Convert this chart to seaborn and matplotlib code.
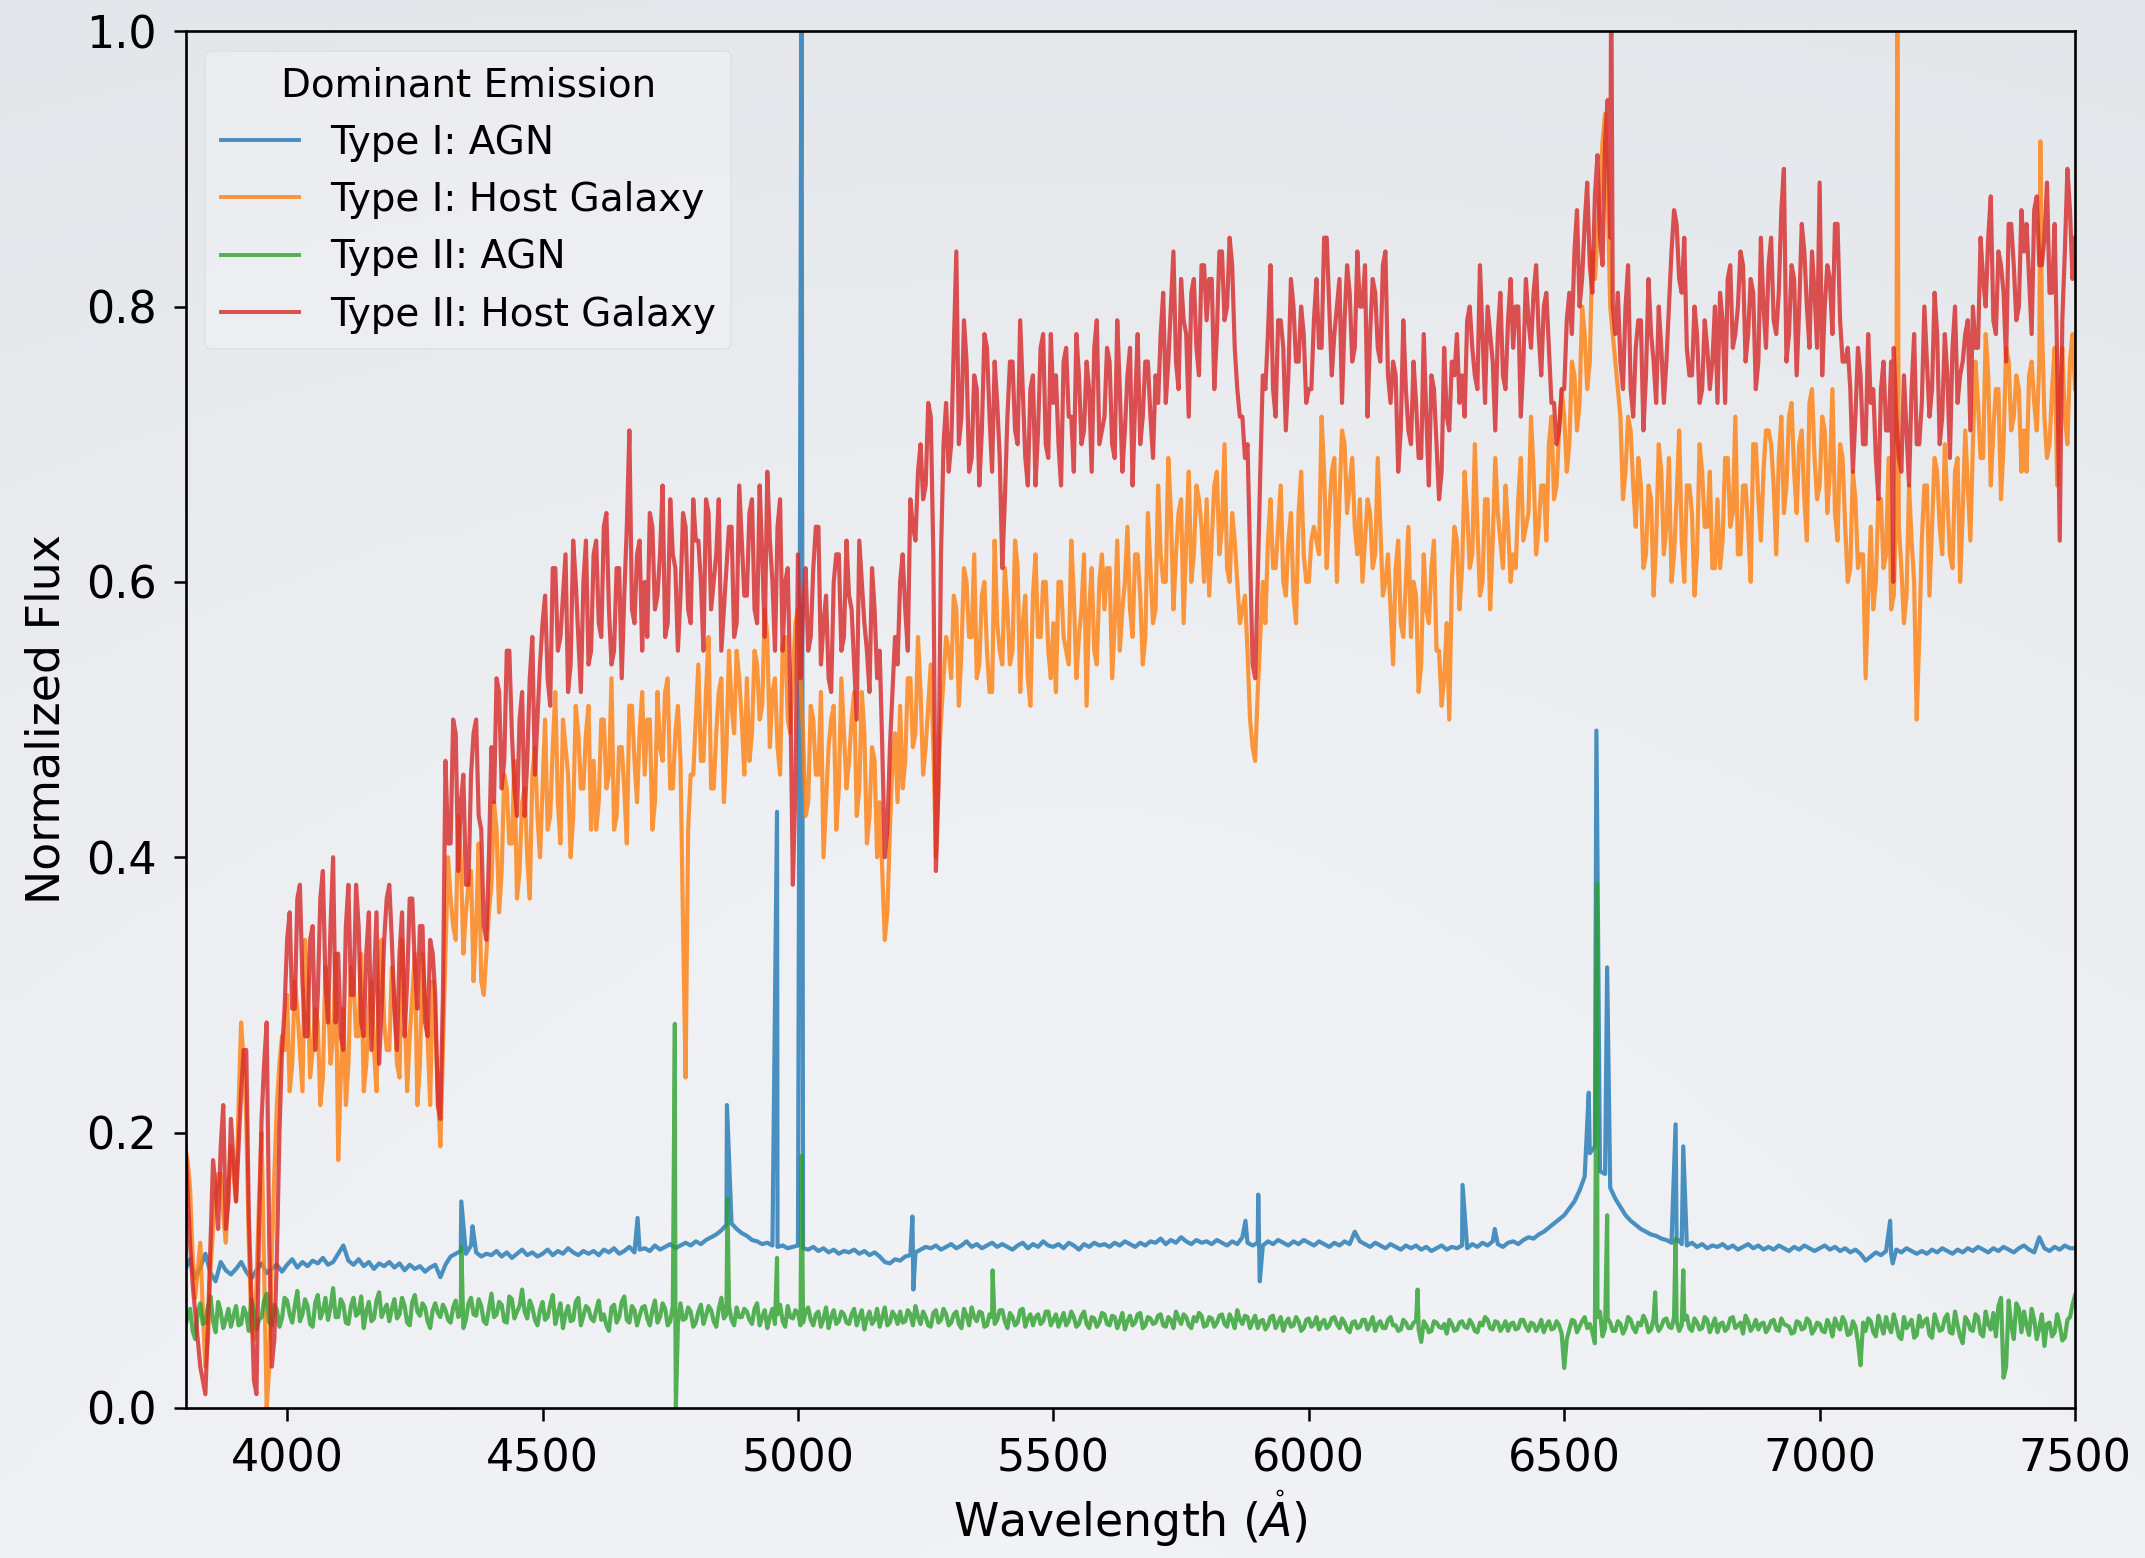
import numpy as np
import pandas as pd
import matplotlib
matplotlib.use("Agg")
import matplotlib.pyplot as plt
from matplotlib.lines import Line2D
from matplotlib.colors import LinearSegmentedColormap
import seaborn as sns

# ---------------- data ----------------
WAVE_START, WAVE_STOP, WAVE_STEP = 3800, 7500, 10   # main sampling grid (Angstrom)
# a second set of samples sits half-way between the main grid points (3805, 3815, ...)

# Type II: Host Galaxy (red), main grid 3800 .. 7500
type2_host = [
    0.20, 0.12, 0.07, 0.03, 0.01, 0.12, 0.16, 0.19, 0.13, 0.21,
    0.15, 0.23, 0.26, 0.08, 0.01, 0.21, 0.28, 0.03, 0.11, 0.26,
    0.34, 0.29, 0.37, 0.31, 0.27, 0.35, 0.30, 0.39, 0.28, 0.40,
    0.33, 0.26, 0.38, 0.30, 0.35, 0.27, 0.36, 0.31, 0.25, 0.34,
    0.38, 0.29, 0.33, 0.27, 0.37, 0.32, 0.35, 0.28, 0.34, 0.30,
    0.21, 0.47, 0.41, 0.49, 0.44, 0.38, 0.46, 0.50, 0.42, 0.34,
    0.48, 0.53, 0.45, 0.55, 0.49, 0.43, 0.52, 0.47, 0.56, 0.50,
    0.57, 0.53, 0.61, 0.55, 0.59, 0.52, 0.63, 0.56, 0.60, 0.54,
    0.62, 0.57, 0.64, 0.58, 0.55, 0.61, 0.59, 0.71, 0.57, 0.63,
    0.60, 0.65, 0.58, 0.62, 0.56, 0.66, 0.61, 0.59, 0.64, 0.57,
    0.63, 0.60, 0.66, 0.58, 0.62, 0.55, 0.61, 0.64, 0.57, 0.63,
    0.59, 0.66, 0.57, 0.62, 0.68, 0.60, 0.64, 0.55, 0.61, 0.38,
    0.62, 0.58, 0.55, 0.61, 0.64, 0.57, 0.53, 0.60, 0.62, 0.56,
    0.59, 0.54, 0.63, 0.57, 0.52, 0.58, 0.55, 0.40, 0.48, 0.56,
    0.60, 0.58, 0.66, 0.63, 0.70, 0.67, 0.72, 0.39, 0.62, 0.73,
    0.70, 0.84, 0.72, 0.76, 0.69, 0.74, 0.71, 0.77, 0.68, 0.73,
    0.61, 0.72, 0.76, 0.70, 0.74, 0.67, 0.75, 0.71, 0.78, 0.69,
    0.73, 0.70, 0.76, 0.72, 0.68, 0.75, 0.71, 0.74, 0.77, 0.70,
    0.72, 0.76, 0.69, 0.74, 0.71, 0.77, 0.73, 0.70, 0.76, 0.72,
    0.75, 0.78, 0.73, 0.80, 0.76, 0.82, 0.78, 0.81, 0.77, 0.83,
    0.79, 0.82, 0.78, 0.84, 0.80, 0.83, 0.74, 0.72, 0.70, 0.54,
    0.60, 0.75, 0.78, 0.74, 0.79, 0.77, 0.75, 0.80, 0.76, 0.78,
    0.74, 0.79, 0.77, 0.85, 0.80, 0.78, 0.82, 0.79, 0.81, 0.77,
    0.80, 0.83, 0.78, 0.81, 0.76, 0.84, 0.73, 0.75, 0.71, 0.74,
    0.70, 0.73, 0.69, 0.72, 0.75, 0.70, 0.68, 0.72, 0.76, 0.78,
    0.75, 0.79, 0.77, 0.74, 0.78, 0.80, 0.76, 0.78, 0.75, 0.79,
    0.77, 0.80, 0.76, 0.79, 0.81, 0.78, 0.80, 0.77, 0.73, 0.71,
    0.74, 0.81, 0.84, 0.80, 0.86, 0.83, 0.88, 0.85, 0.92, 0.85,
    0.78, 0.76, 0.80, 0.74, 0.77, 0.79, 0.75, 0.78, 0.73, 0.77,
    0.76, 0.84, 0.86, 0.81, 0.77, 0.75, 0.78, 0.74, 0.77, 0.76,
    0.73, 0.79, 0.82, 0.77, 0.80, 0.83, 0.78, 0.81, 0.76, 0.80,
    0.83, 0.79, 0.81, 0.90, 0.78, 0.82, 0.80, 0.84, 0.77, 0.81,
    0.89, 0.80, 0.82, 0.86, 0.79, 0.76, 0.74, 0.72, 0.75, 0.70,
    0.73, 0.69, 0.74, 0.71, 0.76, 0.72, 0.68, 0.71, 0.74, 0.70,
    0.73, 0.76, 0.74, 0.78, 0.72, 0.75, 0.77, 0.73, 0.76, 0.79,
    0.80, 0.77, 0.82, 0.85, 0.79, 0.84, 0.81, 0.86, 0.83, 0.80,
    0.84, 0.82, 0.87, 0.83, 0.85, 0.81, 0.86, 0.63, 0.84, 0.87,
    0.85,
]
# Type II: Host Galaxy (red), half-way samples 3805 .. 7495
type2_host_mid = [
    0.16, 0.09, 0.05, 0.02, 0.06, 0.18, 0.13, 0.22, 0.15, 0.18,
    0.19, 0.26, 0.14, 0.02, 0.13, 0.25, 0.12, 0.05, 0.20, 0.29,
    0.36, 0.29, 0.38, 0.27, 0.34, 0.26, 0.37, 0.31, 0.35, 0.28,
    0.27, 0.35, 0.30, 0.38, 0.28, 0.33, 0.26, 0.36, 0.29, 0.37,
    0.34, 0.26, 0.36, 0.31, 0.37, 0.29, 0.35, 0.27, 0.33, 0.22,
    0.30, 0.41, 0.50, 0.39, 0.46, 0.38, 0.49, 0.43, 0.35, 0.40,
    0.44, 0.52, 0.47, 0.55, 0.45, 0.50, 0.43, 0.53, 0.46, 0.54,
    0.59, 0.51, 0.61, 0.56, 0.62, 0.54, 0.60, 0.52, 0.63, 0.55,
    0.63, 0.56, 0.65, 0.54, 0.61, 0.53, 0.64, 0.58, 0.62, 0.55,
    0.56, 0.64, 0.59, 0.67, 0.57, 0.62, 0.55, 0.65, 0.58, 0.66,
    0.63, 0.55, 0.65, 0.60, 0.66, 0.58, 0.64, 0.56, 0.67, 0.59,
    0.65, 0.58, 0.67, 0.56, 0.63, 0.55, 0.66, 0.60, 0.52, 0.45,
    0.53, 0.61, 0.56, 0.64, 0.54, 0.59, 0.52, 0.62, 0.55, 0.63,
    0.58, 0.50, 0.60, 0.55, 0.61, 0.53, 0.48, 0.42, 0.52, 0.54,
    0.62, 0.55, 0.64, 0.68, 0.66, 0.73, 0.62, 0.45, 0.70, 0.68,
    0.77, 0.70, 0.79, 0.68, 0.75, 0.67, 0.78, 0.72, 0.76, 0.69,
    0.66, 0.76, 0.71, 0.79, 0.69, 0.74, 0.67, 0.77, 0.70, 0.78,
    0.75, 0.67, 0.77, 0.72, 0.78, 0.70, 0.76, 0.68, 0.79, 0.71,
    0.77, 0.70, 0.79, 0.68, 0.75, 0.67, 0.78, 0.72, 0.76, 0.69,
    0.73, 0.81, 0.76, 0.84, 0.74, 0.79, 0.72, 0.82, 0.75, 0.83,
    0.82, 0.74, 0.84, 0.79, 0.85, 0.77, 0.72, 0.69, 0.62, 0.53,
    0.68, 0.74, 0.83, 0.72, 0.79, 0.71, 0.82, 0.76, 0.80, 0.73,
    0.74, 0.82, 0.77, 0.85, 0.75, 0.80, 0.73, 0.83, 0.76, 0.84,
    0.80, 0.72, 0.82, 0.77, 0.83, 0.75, 0.76, 0.68, 0.79, 0.71,
    0.76, 0.69, 0.78, 0.67, 0.74, 0.66, 0.77, 0.71, 0.75, 0.73,
    0.72, 0.80, 0.75, 0.83, 0.73, 0.78, 0.71, 0.81, 0.74, 0.82,
    0.80, 0.72, 0.82, 0.77, 0.83, 0.75, 0.81, 0.73, 0.70, 0.74,
    0.79, 0.78, 0.87, 0.82, 0.89, 0.81, 0.91, 0.83, 0.95, 0.80,
    0.81, 0.74, 0.83, 0.72, 0.79, 0.71, 0.82, 0.76, 0.80, 0.73,
    0.80, 0.87, 0.82, 0.85, 0.75, 0.80, 0.73, 0.79, 0.74, 0.80,
    0.81, 0.73, 0.83, 0.78, 0.84, 0.76, 0.82, 0.74, 0.85, 0.77,
    0.85, 0.78, 0.87, 0.76, 0.83, 0.75, 0.86, 0.80, 0.84, 0.77,
    0.75, 0.83, 0.78, 0.86, 0.76, 0.77, 0.68, 0.77, 0.70, 0.78,
    0.74, 0.66, 0.76, 0.71, 0.77, 0.69, 0.75, 0.67, 0.78, 0.70,
    0.80, 0.72, 0.81, 0.70, 0.78, 0.69, 0.80, 0.75, 0.78, 0.71,
    0.77, 0.85, 0.80, 0.88, 0.78, 0.83, 0.76, 0.86, 0.79, 0.87,
    0.86, 0.78, 0.88, 0.83, 0.89, 0.81, 0.76, 0.79, 0.90, 0.82,
]
type2_host_extra = [(6592, 1.05), (7144, 0.60)]

# Type I: Host Galaxy (orange), main grid
type1_host = [
    0.19, 0.16, 0.08, 0.12, 0.03, 0.10, 0.15, 0.17, 0.12, 0.19,
    0.15, 0.28, 0.21, 0.06, 0.09, 0.20, 0.00, 0.11, 0.22, 0.27,
    0.30, 0.25, 0.29, 0.23, 0.31, 0.26, 0.28, 0.24, 0.30, 0.27,
    0.18, 0.29, 0.25, 0.31, 0.27, 0.23, 0.29, 0.26, 0.32, 0.28,
    0.26, 0.30, 0.24, 0.29, 0.27, 0.33, 0.25, 0.30, 0.22, 0.28,
    0.19, 0.33, 0.37, 0.34, 0.40, 0.36, 0.39, 0.35, 0.31, 0.33,
    0.38, 0.42, 0.39, 0.45, 0.41, 0.37, 0.44, 0.40, 0.46, 0.43,
    0.45, 0.42, 0.48, 0.44, 0.50, 0.46, 0.43, 0.49, 0.45, 0.51,
    0.47, 0.44, 0.50, 0.46, 0.42, 0.48, 0.45, 0.51, 0.47, 0.49,
    0.46, 0.50, 0.44, 0.48, 0.52, 0.45, 0.49, 0.47, 0.24, 0.46,
    0.50, 0.47, 0.52, 0.45, 0.49, 0.53, 0.48, 0.51, 0.55, 0.50,
    0.53, 0.49, 0.54, 0.51, 0.56, 0.52, 0.48, 0.55, 0.50, 0.53,
    0.58, 0.49, 0.44, 0.50, 0.46, 0.40, 0.48, 0.51, 0.45, 0.49,
    0.47, 0.52, 0.45, 0.49, 0.43, 0.47, 0.44, 0.34, 0.42, 0.49,
    0.51, 0.47, 0.53, 0.49, 0.52, 0.48, 0.54, 0.40, 0.50, 0.56,
    0.53, 0.58, 0.55, 0.60, 0.56, 0.53, 0.59, 0.55, 0.52, 0.57,
    0.54, 0.58, 0.55, 0.61, 0.57, 0.53, 0.59, 0.56, 0.60, 0.55,
    0.57, 0.60, 0.56, 0.54, 0.59, 0.56, 0.62, 0.58, 0.55, 0.60,
    0.58, 0.61, 0.57, 0.55, 0.60, 0.58, 0.62, 0.59, 0.56, 0.61,
    0.58, 0.62, 0.60, 0.65, 0.62, 0.66, 0.63, 0.60, 0.67, 0.64,
    0.66, 0.63, 0.68, 0.64, 0.61, 0.65, 0.60, 0.58, 0.55, 0.48,
    0.52, 0.60, 0.63, 0.61, 0.64, 0.60, 0.63, 0.59, 0.65, 0.62,
    0.60, 0.64, 0.62, 0.68, 0.65, 0.69, 0.66, 0.70, 0.67, 0.64,
    0.66, 0.63, 0.65, 0.62, 0.64, 0.60, 0.58, 0.61, 0.57, 0.60,
    0.56, 0.59, 0.54, 0.58, 0.61, 0.55, 0.51, 0.57, 0.60, 0.63,
    0.61, 0.65, 0.62, 0.64, 0.60, 0.66, 0.63, 0.65, 0.61, 0.64,
    0.62, 0.66, 0.63, 0.65, 0.68, 0.64, 0.67, 0.70, 0.66, 0.71,
    0.72, 0.70, 0.75, 0.73, 0.78, 0.76, 0.82, 0.88, 0.94, 0.80,
    0.76, 0.72, 0.68, 0.71, 0.64, 0.67, 0.62, 0.66, 0.63, 0.68,
    0.64, 0.60, 0.66, 0.63, 0.67, 0.65, 0.62, 0.68, 0.64, 0.61,
    0.66, 0.63, 0.69, 0.65, 0.62, 0.67, 0.64, 0.70, 0.66, 0.68,
    0.71, 0.67, 0.69, 0.65, 0.72, 0.68, 0.70, 0.66, 0.73, 0.69,
    0.67, 0.71, 0.68, 0.65, 0.70, 0.64, 0.61, 0.66, 0.62, 0.53,
    0.64, 0.60, 0.66, 0.62, 0.58, 0.65, 0.61, 0.59, 0.63, 0.50,
    0.63, 0.67, 0.64, 0.68, 0.62, 0.66, 0.61, 0.69, 0.65, 0.67,
    0.70, 0.73, 0.69, 0.75, 0.71, 0.74, 0.70, 0.76, 0.72, 0.74,
    0.71, 0.75, 0.73, 0.76, 0.72, 0.70, 0.77, 0.74, 0.72, 0.76,
    0.74,
]
# Type I: Host Galaxy (orange), half-way samples
type1_host_mid = [
    0.18, 0.11, 0.10, 0.07, 0.05, 0.13, 0.17, 0.14, 0.16, 0.17,
    0.22, 0.25, 0.12, 0.05, 0.15, 0.10, 0.03, 0.17, 0.25, 0.26,
    0.23, 0.31, 0.26, 0.34, 0.24, 0.29, 0.22, 0.32, 0.25, 0.33,
    0.24, 0.22, 0.32, 0.27, 0.33, 0.25, 0.31, 0.23, 0.34, 0.26,
    0.32, 0.25, 0.34, 0.23, 0.30, 0.22, 0.33, 0.27, 0.31, 0.23,
    0.26, 0.40, 0.35, 0.43, 0.33, 0.38, 0.31, 0.41, 0.30, 0.36,
    0.44, 0.36, 0.46, 0.41, 0.47, 0.39, 0.45, 0.37, 0.48, 0.40,
    0.50, 0.43, 0.52, 0.41, 0.48, 0.40, 0.51, 0.45, 0.49, 0.42,
    0.42, 0.50, 0.45, 0.53, 0.43, 0.48, 0.41, 0.51, 0.44, 0.52,
    0.50, 0.42, 0.52, 0.47, 0.53, 0.45, 0.51, 0.35, 0.42, 0.46,
    0.54, 0.47, 0.56, 0.45, 0.52, 0.44, 0.55, 0.49, 0.53, 0.46,
    0.47, 0.55, 0.50, 0.58, 0.48, 0.53, 0.46, 0.56, 0.49, 0.57,
    0.53, 0.43, 0.51, 0.46, 0.52, 0.44, 0.50, 0.42, 0.53, 0.45,
    0.50, 0.43, 0.52, 0.41, 0.48, 0.40, 0.39, 0.36, 0.47, 0.44,
    0.45, 0.53, 0.48, 0.56, 0.46, 0.51, 0.48, 0.46, 0.53, 0.55,
    0.59, 0.51, 0.61, 0.56, 0.62, 0.54, 0.60, 0.52, 0.63, 0.55,
    0.61, 0.54, 0.63, 0.52, 0.59, 0.51, 0.62, 0.56, 0.60, 0.53,
    0.52, 0.60, 0.55, 0.63, 0.53, 0.58, 0.51, 0.61, 0.54, 0.62,
    0.61, 0.53, 0.63, 0.58, 0.64, 0.56, 0.62, 0.54, 0.65, 0.57,
    0.67, 0.60, 0.69, 0.58, 0.65, 0.57, 0.68, 0.62, 0.66, 0.60,
    0.59, 0.67, 0.62, 0.70, 0.60, 0.63, 0.57, 0.59, 0.50, 0.47,
    0.56, 0.57, 0.66, 0.61, 0.67, 0.59, 0.65, 0.57, 0.68, 0.60,
    0.63, 0.63, 0.72, 0.61, 0.68, 0.60, 0.71, 0.65, 0.69, 0.62,
    0.60, 0.66, 0.61, 0.69, 0.59, 0.62, 0.54, 0.63, 0.56, 0.64,
    0.60, 0.52, 0.62, 0.57, 0.63, 0.55, 0.53, 0.50, 0.64, 0.58,
    0.68, 0.61, 0.70, 0.59, 0.66, 0.58, 0.69, 0.63, 0.67, 0.60,
    0.61, 0.69, 0.64, 0.72, 0.62, 0.67, 0.63, 0.72, 0.67, 0.74,
    0.68, 0.76, 0.71, 0.80, 0.74, 0.84, 0.85, 0.92, 0.88, 0.78,
    0.74, 0.66, 0.72, 0.67, 0.69, 0.61, 0.67, 0.59, 0.70, 0.62,
    0.69, 0.62, 0.71, 0.60, 0.67, 0.59, 0.70, 0.64, 0.68, 0.61,
    0.61, 0.69, 0.64, 0.72, 0.62, 0.67, 0.60, 0.70, 0.63, 0.71,
    0.70, 0.62, 0.72, 0.67, 0.73, 0.65, 0.71, 0.63, 0.74, 0.66,
    0.72, 0.65, 0.74, 0.63, 0.69, 0.60, 0.68, 0.61, 0.62, 0.59,
    0.58, 0.66, 0.61, 0.69, 0.59, 0.64, 0.57, 0.67, 0.60, 0.56,
    0.67, 0.59, 0.69, 0.64, 0.70, 0.62, 0.68, 0.60, 0.71, 0.63,
    0.76, 0.69, 0.78, 0.67, 0.74, 0.66, 0.77, 0.71, 0.75, 0.68,
    0.68, 0.76, 0.71, 0.79, 0.69, 0.74, 0.67, 0.77, 0.70, 0.78,
]
type1_host_extra = [(7152, 1.05), (7432, 0.92)]

# Type I: AGN (blue) continuum, main grid
type1_agn = [
    0.100, 0.108, 0.094, 0.102, 0.112, 0.098, 0.092, 0.106, 0.100, 0.097,
    0.101, 0.106, 0.099, 0.094, 0.100, 0.105, 0.098, 0.101, 0.104, 0.099,
    0.104, 0.108, 0.102, 0.106, 0.103, 0.107, 0.105, 0.109, 0.104, 0.106,
    0.112, 0.118, 0.107, 0.104, 0.108, 0.103, 0.106, 0.101, 0.105, 0.103,
    0.106, 0.102, 0.105, 0.100, 0.104, 0.101, 0.103, 0.099, 0.102, 0.104,
    0.095, 0.104, 0.110, 0.112, 0.114, 0.112, 0.118, 0.113, 0.110, 0.112,
    0.111, 0.114, 0.110, 0.113, 0.109, 0.112, 0.115, 0.111, 0.113, 0.110,
    0.112, 0.115, 0.111, 0.114, 0.112, 0.116, 0.113, 0.111, 0.114, 0.112,
    0.114, 0.111, 0.115, 0.113, 0.116, 0.112, 0.114, 0.117, 0.113, 0.115,
    0.116, 0.114, 0.118, 0.115, 0.117, 0.119, 0.116, 0.118, 0.120, 0.118,
    0.121, 0.119, 0.122, 0.124, 0.126, 0.129, 0.133, 0.134, 0.130, 0.127,
    0.125, 0.122, 0.121, 0.119, 0.120, 0.118, 0.117, 0.118, 0.116, 0.117,
    0.118, 0.116, 0.115, 0.117, 0.114, 0.116, 0.113, 0.115, 0.112, 0.114,
    0.113, 0.115, 0.112, 0.114, 0.111, 0.113, 0.110, 0.106, 0.105, 0.108,
    0.107, 0.110, 0.111, 0.113, 0.115, 0.117, 0.116, 0.118, 0.115, 0.117,
    0.119, 0.116, 0.118, 0.121, 0.117, 0.119, 0.116, 0.118, 0.120, 0.117,
    0.119, 0.117, 0.115, 0.118, 0.120, 0.116, 0.119, 0.117, 0.121, 0.118,
    0.117, 0.119, 0.116, 0.120, 0.118, 0.115, 0.119, 0.117, 0.120, 0.118,
    0.119, 0.117, 0.120, 0.118, 0.121, 0.119, 0.117, 0.120, 0.118, 0.121,
    0.120, 0.123, 0.119, 0.122, 0.120, 0.124, 0.121, 0.119, 0.122, 0.120,
    0.121, 0.119, 0.122, 0.120, 0.118, 0.121, 0.119, 0.124, 0.120, 0.118,
    0.120, 0.118, 0.121, 0.119, 0.122, 0.120, 0.118, 0.121, 0.119, 0.122,
    0.120, 0.118, 0.121, 0.119, 0.117, 0.120, 0.118, 0.121, 0.119, 0.128,
    0.121, 0.119, 0.117, 0.120, 0.118, 0.116, 0.119, 0.117, 0.115, 0.118,
    0.116, 0.118, 0.115, 0.117, 0.114, 0.116, 0.118, 0.115, 0.117, 0.116,
    0.118, 0.116, 0.119, 0.117, 0.120, 0.118, 0.121, 0.119, 0.117, 0.120,
    0.121, 0.119, 0.122, 0.124, 0.123, 0.126, 0.128, 0.131, 0.134, 0.137,
    0.140, 0.145, 0.150, 0.158, 0.168, 0.185, 0.190, 0.172, 0.170, 0.160,
    0.152, 0.146, 0.140, 0.136, 0.133, 0.130, 0.128, 0.126, 0.125, 0.123,
    0.122, 0.120, 0.121, 0.119, 0.118, 0.120, 0.117, 0.119, 0.116, 0.118,
    0.117, 0.119, 0.116, 0.118, 0.115, 0.117, 0.119, 0.116, 0.118, 0.115,
    0.117, 0.115, 0.118, 0.116, 0.114, 0.117, 0.115, 0.118, 0.116, 0.114,
    0.116, 0.118, 0.115, 0.117, 0.114, 0.116, 0.113, 0.115, 0.112, 0.107,
    0.110, 0.113, 0.111, 0.114, 0.112, 0.115, 0.113, 0.116, 0.114, 0.112,
    0.114, 0.112, 0.115, 0.113, 0.116, 0.114, 0.112, 0.115, 0.113, 0.116,
    0.114, 0.117, 0.115, 0.113, 0.116, 0.114, 0.117, 0.115, 0.113, 0.116,
    0.118, 0.115, 0.113, 0.124, 0.116, 0.114, 0.117, 0.115, 0.118, 0.116,
    0.116,
]
type1_agn_lines = [
    (4341, 0.150), (4363, 0.132), (4686, 0.138), (4861, 0.220), (4959, 0.433),
    (5007, 1.05), (5224, 0.139), (5226, 0.086), (5876, 0.136), (5901, 0.155),
    (5904, 0.092), (6301, 0.162), (6364, 0.130), (6548, 0.229), (6563, 0.492),
    (6584, 0.320), (6718, 0.206), (6724, 0.122), (6733, 0.190), (7138, 0.136),
    (7143, 0.105),
]

# Type II: AGN (green), main grid
type2_agn = [
    0.058, 0.072, 0.050, 0.076, 0.062, 0.081, 0.055, 0.070, 0.064, 0.059,
    0.074, 0.061, 0.068, 0.079, 0.057, 0.066, 0.083, 0.060, 0.071, 0.065,
    0.078, 0.062, 0.085, 0.068, 0.074, 0.059, 0.082, 0.070, 0.064, 0.087,
    0.066, 0.075, 0.061, 0.080, 0.069, 0.058, 0.077, 0.065, 0.084, 0.071,
    0.063, 0.079, 0.068, 0.074, 0.060, 0.082, 0.067, 0.073, 0.058, 0.076,
    0.066, 0.071, 0.062, 0.078, 0.069, 0.064, 0.080, 0.067, 0.074, 0.061,
    0.083, 0.068, 0.075, 0.062, 0.079, 0.070, 0.086, 0.065, 0.073, 0.060,
    0.077, 0.066, 0.082, 0.069, 0.058, 0.074, 0.064, 0.080, 0.067, 0.072,
    0.063, 0.078, 0.068, 0.056, 0.075, 0.066, 0.081, 0.062, 0.071, 0.067,
    0.074, 0.060, 0.078, 0.066, 0.072, 0.063, 0.069, 0.076, 0.065, 0.070,
    0.062, 0.075, 0.067, 0.071, 0.059, 0.080, 0.068, 0.064, 0.073, 0.066,
    0.070, 0.061, 0.076, 0.066, 0.058, 0.072, 0.068, 0.063, 0.074, 0.065,
    0.069, 0.062, 0.073, 0.060, 0.070, 0.065, 0.058, 0.071, 0.063, 0.068,
    0.061, 0.072, 0.066, 0.057, 0.070, 0.064, 0.059, 0.073, 0.062, 0.067,
    0.070, 0.063, 0.068, 0.074, 0.061, 0.066, 0.059, 0.071, 0.064, 0.068,
    0.062, 0.070, 0.058, 0.067, 0.073, 0.063, 0.069, 0.060, 0.066, 0.064,
    0.071, 0.058, 0.066, 0.062, 0.072, 0.065, 0.060, 0.068, 0.063, 0.070,
    0.064, 0.059, 0.069, 0.063, 0.066, 0.061, 0.070, 0.058, 0.065, 0.062,
    0.068, 0.060, 0.066, 0.063, 0.057, 0.067, 0.062, 0.069, 0.060, 0.065,
    0.062, 0.068, 0.059, 0.064, 0.070, 0.061, 0.066, 0.058, 0.063, 0.067,
    0.060, 0.065, 0.062, 0.068, 0.059, 0.064, 0.071, 0.061, 0.066, 0.063,
    0.058, 0.064, 0.060, 0.067, 0.062, 0.056, 0.065, 0.060, 0.063, 0.058,
    0.065, 0.061, 0.057, 0.064, 0.060, 0.066, 0.058, 0.062, 0.055, 0.063,
    0.059, 0.064, 0.061, 0.056, 0.063, 0.058, 0.066, 0.060, 0.057, 0.062,
    0.058, 0.063, 0.048, 0.060, 0.056, 0.062, 0.058, 0.054, 0.061, 0.057,
    0.063, 0.058, 0.061, 0.055, 0.060, 0.064, 0.057, 0.062, 0.059, 0.056,
    0.062, 0.058, 0.064, 0.056, 0.061, 0.059, 0.055, 0.063, 0.058, 0.060,
    0.029, 0.057, 0.063, 0.059, 0.066, 0.061, 0.047, 0.070, 0.058, 0.062,
    0.056, 0.061, 0.058, 0.064, 0.055, 0.060, 0.063, 0.057, 0.062, 0.059,
    0.065, 0.058, 0.063, 0.060, 0.067, 0.056, 0.062, 0.058, 0.064, 0.060,
    0.055, 0.062, 0.058, 0.066, 0.060, 0.054, 0.063, 0.059, 0.057, 0.062,
    0.058, 0.064, 0.056, 0.061, 0.059, 0.055, 0.062, 0.058, 0.063, 0.057,
    0.061, 0.055, 0.060, 0.065, 0.057, 0.062, 0.054, 0.059, 0.031, 0.056,
    0.063, 0.052, 0.060, 0.066, 0.055, 0.061, 0.050, 0.058, 0.064, 0.053,
    0.059, 0.065, 0.051, 0.062, 0.057, 0.068, 0.054, 0.060, 0.047, 0.063,
    0.056, 0.066, 0.052, 0.061, 0.069, 0.074, 0.022, 0.078, 0.050, 0.072,
    0.070, 0.053, 0.064, 0.058, 0.045, 0.062, 0.055, 0.060, 0.051, 0.066,
    0.082,
]
# Type II: AGN (green), half-way samples
type2_agn_mid = [
    0.066, 0.056, 0.069, 0.061, 0.074, 0.063, 0.077, 0.058, 0.072, 0.067,
    0.060, 0.073, 0.056, 0.070, 0.064, 0.078, 0.062, 0.075, 0.059, 0.080,
    0.068, 0.074, 0.063, 0.079, 0.061, 0.076, 0.065, 0.080, 0.073, 0.066,
    0.079, 0.062, 0.074, 0.067, 0.081, 0.070, 0.063, 0.078, 0.066, 0.075,
    0.072, 0.065, 0.080, 0.062, 0.077, 0.070, 0.076, 0.063, 0.071, 0.069,
    0.075, 0.064, 0.073, 0.066, 0.058, 0.076, 0.068, 0.079, 0.063, 0.072,
    0.066, 0.077, 0.063, 0.081, 0.065, 0.074, 0.070, 0.078, 0.064, 0.071,
    0.064, 0.075, 0.061, 0.076, 0.068, 0.063, 0.077, 0.060, 0.074, 0.065,
    0.071, 0.064, 0.060, 0.073, 0.062, 0.077, 0.064, 0.074, 0.060, 0.073,
    0.065, 0.071, 0.062, 0.076, 0.060, 0.074, 0.061, 0.064, 0.073, 0.059,
    0.070, 0.061, 0.074, 0.063, 0.072, 0.065, 0.074, 0.060, 0.066, 0.072,
    0.064, 0.072, 0.060, 0.071, 0.066, 0.061, 0.075, 0.059, 0.066, 0.071,
    0.060, 0.070, 0.064, 0.068, 0.059, 0.073, 0.066, 0.061, 0.070, 0.062,
    0.068, 0.060, 0.071, 0.065, 0.061, 0.072, 0.066, 0.060, 0.070, 0.061,
    0.062, 0.071, 0.060, 0.066, 0.070, 0.060, 0.069, 0.062, 0.072, 0.060,
    0.068, 0.061, 0.072, 0.060, 0.066, 0.070, 0.059, 0.068, 0.061, 0.071,
    0.063, 0.069, 0.060, 0.071, 0.059, 0.068, 0.066, 0.061, 0.070, 0.060,
    0.068, 0.064, 0.060, 0.070, 0.059, 0.067, 0.061, 0.066, 0.059, 0.069,
    0.061, 0.067, 0.058, 0.069, 0.063, 0.060, 0.068, 0.058, 0.066, 0.061,
    0.067, 0.060, 0.066, 0.058, 0.065, 0.068, 0.060, 0.066, 0.069, 0.059,
    0.066, 0.059, 0.067, 0.061, 0.068, 0.058, 0.064, 0.067, 0.058, 0.067,
    0.063, 0.057, 0.066, 0.058, 0.066, 0.062, 0.059, 0.066, 0.056, 0.064,
    0.059, 0.066, 0.062, 0.058, 0.065, 0.061, 0.065, 0.057, 0.062, 0.058,
    0.064, 0.057, 0.066, 0.061, 0.058, 0.064, 0.060, 0.056, 0.064, 0.058,
    0.062, 0.057, 0.063, 0.055, 0.063, 0.059, 0.061, 0.064, 0.056, 0.062,
    0.059, 0.064, 0.056, 0.062, 0.066, 0.058, 0.063, 0.056, 0.063, 0.061,
    0.057, 0.064, 0.059, 0.062, 0.056, 0.064, 0.060, 0.057, 0.063, 0.054,
    0.050, 0.064, 0.055, 0.063, 0.058, 0.055, 0.066, 0.052, 0.065, 0.056,
    0.063, 0.054, 0.066, 0.058, 0.062, 0.067, 0.055, 0.065, 0.056, 0.064,
    0.059, 0.066, 0.056, 0.064, 0.058, 0.065, 0.057, 0.066, 0.055, 0.065,
    0.061, 0.056, 0.065, 0.058, 0.062, 0.067, 0.056, 0.064, 0.061, 0.055,
    0.063, 0.057, 0.065, 0.060, 0.054, 0.063, 0.057, 0.065, 0.054, 0.062,
    0.056, 0.064, 0.052, 0.060, 0.066, 0.053, 0.063, 0.048, 0.062, 0.065,
    0.055, 0.067, 0.054, 0.059, 0.068, 0.052, 0.066, 0.061, 0.051, 0.067,
    0.063, 0.053, 0.068, 0.056, 0.065, 0.055, 0.070, 0.052, 0.066, 0.057,
    0.068, 0.054, 0.070, 0.057, 0.052, 0.080, 0.030, 0.060, 0.076, 0.055,
    0.060, 0.072, 0.050, 0.068, 0.061, 0.052, 0.068, 0.049, 0.064, 0.075,
]
type2_agn_lines = [
    (4341, 0.117), (4759, 0.279), (4761, 0.0), (4862, 0.152), (4959, 0.109),
    (5007, 0.183), (5381, 0.100), (6213, 0.086), (6564, 0.381), (6584, 0.140),
    (6678, 0.084), (6718, 0.123), (6733, 0.100),
]

labels = ["Type I: AGN", "Type I: Host Galaxy", "Type II: AGN", "Type II: Host Galaxy"]
colors = ["#1f77b4", "#ff7f0e", "#2ca02c", "#d62728"]

# ---------------- build table ----------------
grid = np.arange(WAVE_START, WAVE_STOP + 1, WAVE_STEP)
grid_mid = grid[:-1] + WAVE_STEP / 2


def merged(cont, mid, extra):
    w = list(grid) + (list(grid_mid) if mid else []) + [p[0] for p in extra]
    f = list(cont) + (list(mid) if mid else []) + [p[1] for p in extra]
    order = np.argsort(w, kind="stable")
    return np.asarray(w, float)[order], np.asarray(f, float)[order]


series = {
    labels[0]: merged(type1_agn, None, type1_agn_lines),
    labels[1]: merged(type1_host, type1_host_mid, type1_host_extra),
    labels[2]: merged(type2_agn, type2_agn_mid, type2_agn_lines),
    labels[3]: merged(type2_host, type2_host_mid, type2_host_extra),
}
frames = []
for name, (w, f) in series.items():
    frames.append(pd.DataFrame({"Wavelength": w, "Flux": f, "Dominant Emission": name}))
df = pd.concat(frames, ignore_index=True)

# ---------------- figure ----------------
plt.rcParams["font.family"] = ["DejaVu Sans"]
plt.rcParams["mathtext.fontset"] = "dejavusans"

fig = plt.figure(figsize=(21.45, 15.58), dpi=100)

# soft slide-like background
bg = fig.add_axes([0, 0, 1, 1], zorder=-10)
yy, xx = np.mgrid[0:1:200j, 0:1:200j]
shade = 0.55 * yy + 0.45 * (1 - ((xx - 0.5) ** 2 + (yy - 0.6) ** 2) ** 0.5)
cmap = LinearSegmentedColormap.from_list("bg", ["#e3e6ea", "#f1f2f5"])
bg.imshow(shade, cmap=cmap, aspect="auto", origin="upper", extent=[0, 1, 0, 1])
bg.axis("off")

ax = fig.add_axes([0.0867, 0.0963, 0.8807, 0.8837])
ax.patch.set_alpha(0)

sns.lineplot(data=df, x="Wavelength", y="Flux", hue="Dominant Emission",
             hue_order=labels, palette=colors, estimator=None, errorbar=None,
             sort=False, linewidth=3.0, alpha=0.8, legend=False, ax=ax)

ax.set_xlim(3802, 7500)
ax.set_ylim(0, 1.0)
ax.set_xticks(np.arange(4000, 7501, 500))
ax.set_yticks(np.arange(0, 1.01, 0.2))
ax.yaxis.set_major_formatter(matplotlib.ticker.FormatStrFormatter("%.1f"))

ax.set_xlabel(r"Wavelength ($\mathring{A}$)", fontsize=33, labelpad=6)
ax.set_ylabel("Normalized Flux", fontsize=33, labelpad=12)
ax.tick_params(axis="both", labelsize=32, length=9, width=1.8, pad=12, color="black")
for sp in ax.spines.values():
    sp.set_linewidth(1.9)
    sp.set_color("black")

handles = [Line2D([], [], color=c, lw=2.8, alpha=0.8) for c in colors]
leg = ax.legend(handles, labels, title="Dominant Emission", loc="upper left",
                fontsize=28, title_fontsize=28, frameon=True, fancybox=True,
                framealpha=0.5, borderaxespad=0.5)
leg.get_frame().set_facecolor("#f2f3f6")
leg.get_frame().set_edgecolor("#d5d8dc")
leg.get_frame().set_linewidth(1.2)

fig.savefig("out.png", dpi=100)
